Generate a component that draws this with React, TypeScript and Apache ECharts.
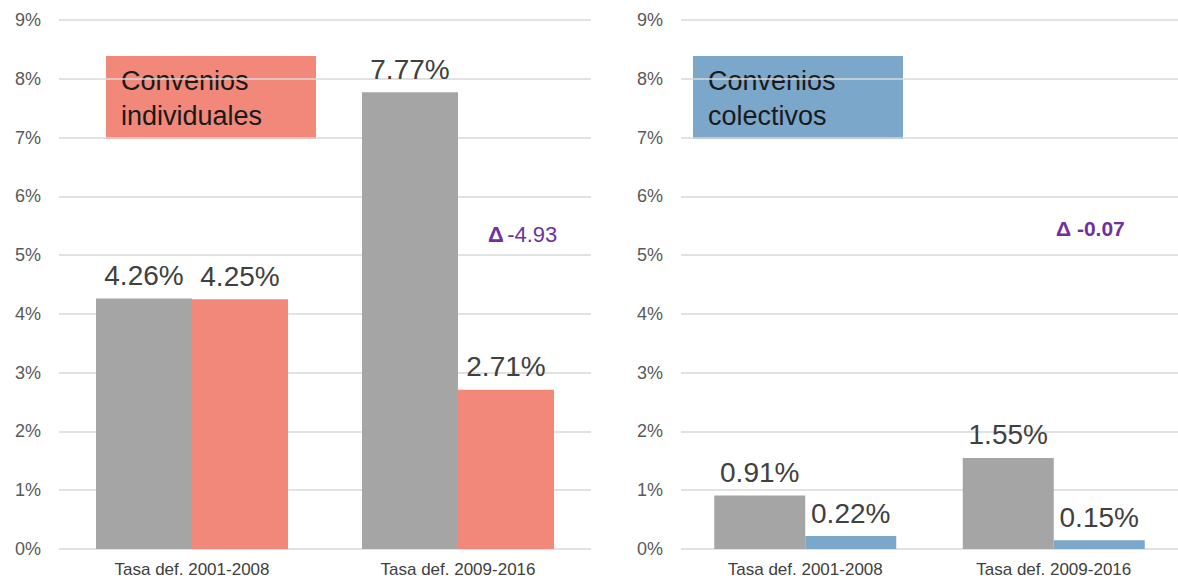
import React, { useEffect, useRef } from "react";
import * as echarts from "echarts";

const categories = ["Tasa def. 2001-2008", "Tasa def. 2009-2016"];
const individualesGris = [4.26, 7.77];
const individualesColor = [4.25, 2.71];
const colectivosGris = [0.91, 1.55];
const colectivosColor = [0.22, 0.15];
const yTicks = { min: 0, max: 9, interval: 1 };
const deltaIndividuales = "-4.93";
const deltaColectivos = "-0.07";
const tituloIndividuales = "Convenios\nindividuales";
const tituloColectivos = "Convenios\ncolectivos";

const FONT = "'Liberation Sans', Arial, sans-serif";
const GRAY = "#a5a5a5";
const PINK = "#f1887a";
const BLUE = "#7ba7ca";
const PURPLE = "#7030a0";

function catAxis(gridIndex: number) {
  return {
    type: "category",
    gridIndex,
    data: categories,
    axisLine: { show: false },
    axisTick: { show: false },
    axisLabel: {
      margin: 12,
      fontSize: 17,
      color: "#404040",
      fontFamily: FONT,
    },
  };
}

function valAxis(gridIndex: number) {
  return {
    type: "value",
    gridIndex,
    min: yTicks.min,
    max: yTicks.max,
    interval: yTicks.interval,
    axisLine: { show: false },
    axisTick: { show: false },
    axisLabel: {
      formatter: "{value}%",
      fontSize: 18,
      color: "#595959",
      fontFamily: FONT,
      margin: 18,
    },
    splitLine: { lineStyle: { color: "#d9d9d9", width: 1.5 } },
  };
}

function barSeries(axis: number, data: number[], color: string, width: number) {
  return {
    type: "bar",
    xAxisIndex: axis,
    yAxisIndex: axis,
    data,
    barWidth: width,
    barGap: "0%",
    itemStyle: { color },
    label: {
      show: true,
      position: "top",
      distance: 9,
      fontSize: 28,
      color: "#404040",
      fontFamily: FONT,
      formatter: (p: any) => `${Number(p.value).toFixed(2)}%`,
    },
  };
}

function titleBox(x: number, color: string, text: string) {
  return {
    type: "group",
    children: [
      {
        type: "rect",
        shape: { x, y: 56, width: 210, height: 83 },
        style: { fill: color },
      },
      {
        type: "text",
        x: x + 15,
        y: 63,
        style: {
          text,
          fontSize: 27,
          lineHeight: 35,
          fill: "#1a1a1a",
          fontFamily: FONT,
        },
      },
    ],
  };
}

export default function App() {
  const ref = useRef<HTMLDivElement>(null);
  useEffect(() => {
    if (!ref.current) return;
    const chart = echarts.init(ref.current, undefined, { renderer: "svg" });
    chart.setOption({
      animation: false,
      backgroundColor: "#ffffff",
      grid: [
        { left: 59, top: 20, width: 532, height: 529 },
        { left: 681, top: 20, width: 504, height: 529 },
      ],
      xAxis: [catAxis(0), catAxis(1)],
      yAxis: [valAxis(0), valAxis(1)],
      series: [
        barSeries(0, individualesGris, GRAY, 96),
        barSeries(0, individualesColor, PINK, 96),
        barSeries(1, colectivosGris, GRAY, 91),
        barSeries(1, colectivosColor, BLUE, 91),
      ],
      graphic: [
        titleBox(106, PINK, tituloIndividuales),
        titleBox(693, BLUE, tituloColectivos),
        {
          type: "text",
          x: 488,
          y: 223,
          style: {
            text: `{b|Δ} {n|${deltaIndividuales}}`,
            rich: {
              b: { fontSize: 22, fontWeight: "bold", fill: PURPLE, fontFamily: FONT },
              n: { fontSize: 22, fill: PURPLE, fontFamily: FONT },
            },
          },
        },
        {
          type: "text",
          x: 1056,
          y: 218,
          style: {
            text: `Δ ${deltaColectivos}`,
            fontSize: 21,
            fontWeight: "bold",
            fill: PURPLE,
            fontFamily: FONT,
          },
        },
      ],
    });
    return () => chart.dispose();
  }, []);
  return (
    <div
      ref={ref}
      style={{ position: "fixed", left: 0, top: 0, width: 1178, height: 582 }}
    />
  );
}
